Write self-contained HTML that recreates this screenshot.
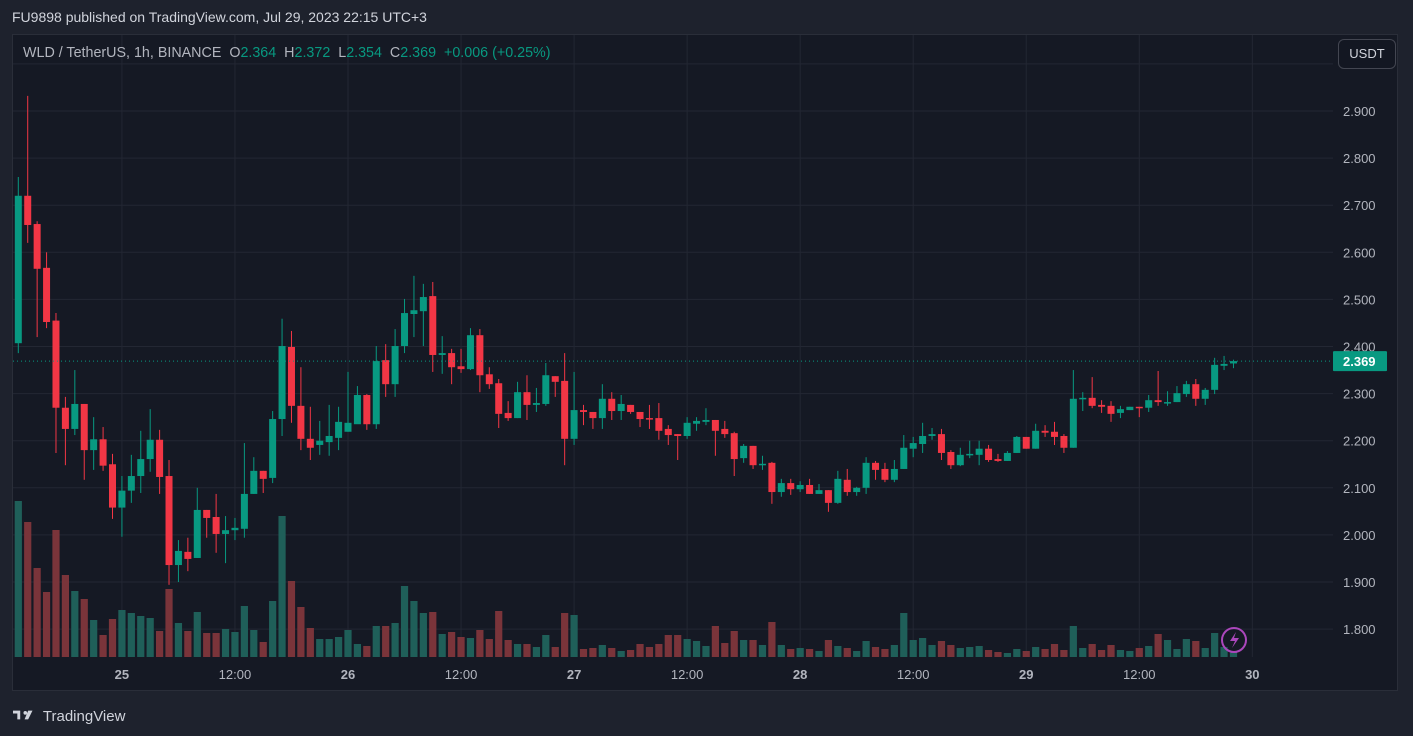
<!DOCTYPE html>
<html><head><meta charset="utf-8"><style>
html,body{margin:0;padding:0;background:#1e222d;width:1413px;height:736px;overflow:hidden;font-family:"Liberation Sans",sans-serif}
#hdr{position:absolute;left:12px;top:9px;font-size:14px;color:#d1d4dc}
#box{position:absolute;left:12px;top:34px;width:1386px;height:657px;background:#151924;border:1px solid #2a2e39;box-sizing:border-box}
svg{position:absolute;left:0;top:0}
#legend{position:absolute;left:23px;top:45px;font-size:14.3px;color:#b2b5be;white-space:pre}
#legend .v{color:#089981}
#usdt{position:absolute;left:1338px;top:39px;width:58px;height:30px;border:1px solid #434651;border-radius:6px;box-sizing:border-box;color:#d1d4dc;font-size:13px;text-align:center;line-height:28px;background:#131722}
#logo{position:absolute;left:13px;top:705px;font-size:15px;color:#d1d4dc}
</style></head><body>
<div id="hdr">FU9898 published on TradingView.com, Jul 29, 2023 22:15 UTC+3</div>
<div id="box"></div>
<svg id="chart" width="1413" height="736"></svg>
<div id="legend">WLD / TetherUS, 1h, BINANCE  O<span class="v">2.364</span>  H<span class="v">2.372</span>  L<span class="v">2.354</span>  C<span class="v">2.369</span>  <span class="v">+0.006 (+0.25%)</span></div>
<div id="usdt">USDT</div>
<div id="logo"><svg width="26" height="16" style="position:relative;top:2px" viewBox="0 0 36 16"><path d="M0 2h10v12H6V6H0z" fill="#d1d4dc"/><circle cx="17" cy="5" r="2.5" fill="#d1d4dc"/><path d="M21 2h6l-6 12h-5z" fill="#d1d4dc"/></svg> TradingView</div>
<script>
const opens=[2.407,2.720,2.660,2.567,2.455,2.270,2.225,2.278,2.180,2.203,2.150,2.058,2.094,2.125,2.161,2.202,2.125,1.936,1.964,1.951,2.053,2.038,2.002,2.010,2.013,2.087,2.136,2.121,2.246,2.399,2.274,2.204,2.191,2.197,2.206,2.219,2.235,2.297,2.235,2.371,2.320,2.401,2.469,2.475,2.507,2.382,2.386,2.358,2.352,2.424,2.341,2.322,2.259,2.248,2.303,2.276,2.278,2.337,2.327,2.204,2.265,2.261,2.248,2.289,2.263,2.276,2.261,2.248,2.248,2.225,2.214,2.210,2.236,2.240,2.244,2.225,2.216,2.163,2.189,2.148,2.153,2.091,2.110,2.097,2.106,2.087,2.095,2.068,2.117,2.091,2.100,2.153,2.140,2.117,2.140,2.183,2.193,2.210,2.214,2.176,2.148,2.170,2.170,2.183,2.161,2.157,2.174,2.208,2.183,2.221,2.219,2.210,2.185,2.289,2.291,2.276,2.274,2.259,2.265,2.272,2.270,2.286,2.280,2.282,2.299,2.320,2.289,2.308,2.359,2.364];
const highs=[2.760,2.932,2.666,2.600,2.471,2.293,2.350,2.278,2.250,2.229,2.172,2.125,2.170,2.221,2.267,2.223,2.159,1.989,1.994,2.100,2.053,2.087,2.040,2.036,2.195,2.165,2.136,2.263,2.459,2.433,2.356,2.272,2.242,2.276,2.272,2.346,2.316,2.299,2.401,2.405,2.437,2.501,2.550,2.533,2.537,2.422,2.395,2.395,2.439,2.437,2.356,2.331,2.284,2.325,2.339,2.312,2.365,2.337,2.386,2.346,2.276,2.261,2.320,2.303,2.297,2.276,2.261,2.276,2.280,2.233,2.214,2.250,2.250,2.269,2.244,2.242,2.219,2.193,2.189,2.168,2.155,2.119,2.119,2.114,2.119,2.108,2.095,2.136,2.140,2.102,2.165,2.157,2.153,2.159,2.212,2.208,2.238,2.227,2.225,2.180,2.185,2.200,2.200,2.191,2.172,2.178,2.210,2.208,2.236,2.233,2.240,2.214,2.350,2.303,2.335,2.286,2.284,2.274,2.272,2.272,2.297,2.348,2.305,2.316,2.327,2.331,2.312,2.376,2.380,2.372];
const lows=[2.386,2.620,2.420,2.439,2.174,2.148,2.212,2.117,2.138,2.136,2.034,1.996,2.068,2.089,2.134,2.087,1.894,1.900,1.923,1.951,1.994,1.962,1.940,1.989,1.994,2.087,2.089,2.110,2.210,2.238,2.180,2.159,2.170,2.168,2.180,2.219,2.244,2.223,2.225,2.293,2.293,2.386,2.420,2.401,2.346,2.342,2.320,2.344,2.350,2.303,2.310,2.227,2.242,2.248,2.244,2.261,2.274,2.293,2.148,2.191,2.233,2.225,2.225,2.244,2.244,2.257,2.229,2.225,2.202,2.191,2.159,2.204,2.221,2.233,2.168,2.206,2.125,2.153,2.140,2.138,2.066,2.081,2.085,2.091,2.087,2.087,2.049,2.066,2.083,2.083,2.087,2.117,2.112,2.112,2.140,2.165,2.174,2.202,2.159,2.140,2.146,2.163,2.148,2.155,2.155,2.157,2.174,2.183,2.183,2.208,2.191,2.174,2.185,2.263,2.269,2.259,2.240,2.248,2.265,2.250,2.261,2.274,2.274,2.282,2.293,2.274,2.276,2.299,2.350,2.354];
const closes=[2.720,2.658,2.565,2.452,2.270,2.225,2.278,2.180,2.203,2.147,2.058,2.094,2.125,2.161,2.202,2.123,1.936,1.966,1.949,2.053,2.036,2.002,2.010,2.015,2.087,2.136,2.119,2.246,2.401,2.274,2.204,2.185,2.200,2.210,2.240,2.238,2.297,2.235,2.369,2.320,2.401,2.471,2.477,2.505,2.382,2.386,2.356,2.352,2.424,2.339,2.320,2.257,2.248,2.303,2.276,2.280,2.339,2.325,2.204,2.265,2.261,2.248,2.289,2.263,2.278,2.261,2.246,2.246,2.221,2.212,2.210,2.238,2.242,2.244,2.221,2.214,2.161,2.189,2.148,2.151,2.091,2.110,2.097,2.106,2.087,2.095,2.068,2.119,2.091,2.100,2.153,2.138,2.117,2.140,2.185,2.195,2.210,2.214,2.174,2.148,2.170,2.172,2.183,2.159,2.157,2.174,2.208,2.183,2.221,2.217,2.208,2.185,2.289,2.291,2.274,2.272,2.257,2.267,2.272,2.270,2.286,2.282,2.282,2.301,2.320,2.289,2.308,2.361,2.363,2.369];
const volumes=[156,135,89,65,127,82,66,58,37,22,38,47,44,41,39,26,68,34,26,45,24,24,28,25,51,27,15,56,141,76,50,29,18,18,20,27,13,11,31,31,34,71,56,44,45,23,25,20,19,27,18,46,17,13,13,10,22,10,44,42,8,9,12,9,6,7,13,10,13,22,22,18,16,11,31,14,26,17,17,12,35,12,8,9,8,6,17,11,9,6,16,10,8,12,44,17,19,12,16,12,9,10,11,7,5,4,8,6,10,8,13,7,31,9,13,7,12,7,6,9,11,23,17,8,18,16,9,24,10,5];
const priceTicks=[1.8,1.9,2.0,2.1,2.2,2.3,2.4,2.5,2.6,2.7,2.8,2.9];
const timeTickIdx=[11,23,35,47,59,71,83,95,107,119,131];
const timeTickLabels=["25","12:00","26","12:00","27","12:00","28","12:00","29","12:00","30"];
const lastPrice=2.369;

const NS="http://www.w3.org/2000/svg";
const svg=document.getElementById('chart');
const X0=18.3, DX=9.42;
function xs(i){return X0+i*DX;}
function ys(p){return 111+(2.9-p)*471;}
const VB=657, VK=1.0;
function yv(v){return VB-v*VK;}
function mk(tag,attrs,parent){const e=document.createElementNS(NS,tag);for(const k in attrs)e.setAttribute(k,attrs[k]);(parent||svg).appendChild(e);return e;}

const grid=mk('g',{});


for(let p=1.8;p<=3.001;p+=0.1){mk('line',{x1:13,x2:1333,y1:ys(p),y2:ys(p),stroke:'#232733','stroke-width':1},grid);}
timeTickIdx.forEach(i=>{mk('line',{x1:xs(i),x2:xs(i),y1:35,y2:657,stroke:'#232733','stroke-width':1},grid);});

const vg=mk('g',{});


volumes.forEach((v,i)=>{
  const up=closes[i]>=opens[i];
  const r=mk('rect',{x:xs(i)-3.6,y:yv(v),width:7.2,height:v*VK,fill:up?'#1f5f59':'#7a343a'},vg);
  
  
});

const cg=mk('g',{});


opens.forEach((o,i)=>{
  const c=closes[i],up=c>=o,col=up?'#089981':'#f23645';
  const g=mk('g',{},cg);
  
  
  const x=xs(i);
  mk('line',{x1:x,x2:x,y1:ys(highs[i]),y2:ys(lows[i]),stroke:col,'stroke-width':1},g);
  const t=ys(Math.max(o,c)),b=ys(Math.min(o,c));
  mk('rect',{x:x-3.5,y:t,width:7,height:Math.max(1.5,b-t),fill:col},g);
});

const ll=mk('line',{x1:13,x2:1333,y1:ys(lastPrice),y2:ys(lastPrice),stroke:'#089981','stroke-width':1,'stroke-dasharray':'1 3'});



const pa=mk('g',{});


priceTicks.forEach(p=>{
  const t=mk('text',{x:1343,y:ys(p)+5,fill:'#b2b5be','font-size':13,'font-family':'Liberation Sans, sans-serif'},pa);
  t.textContent=p.toFixed(3);
  
  
});
const lb=mk('g',{});


mk('rect',{x:1333,y:ys(lastPrice)-10,width:54,height:20,fill:'#089981',rx:1},lb);
const lt=mk('text',{x:1343,y:ys(lastPrice)+5,fill:'#ffffff','font-size':13,'font-weight':'bold','font-family':'Liberation Sans, sans-serif'},lb);
lt.textContent=lastPrice.toFixed(3);

const ta=mk('g',{});


timeTickIdx.forEach((i,k)=>{
  const lab=timeTickLabels[k];
  const t=mk('text',{x:xs(i),y:679,fill:'#b2b5be','font-size':13,'text-anchor':'middle','font-weight':lab.indexOf(':')<0?'bold':'normal','font-family':'Liberation Sans, sans-serif'},ta);
  t.textContent=lab;
  
  
});

const ic=mk('g',{});


mk('circle',{cx:1234,cy:640,r:12,fill:'none',stroke:'#ab47bc','stroke-width':2},ic);
mk('path',{d:'M1236 632 L1230 641 L1235 641 L1232 648 L1239 638 L1234 638 Z',fill:'#ab47bc'},ic);
</script>
</body></html>
